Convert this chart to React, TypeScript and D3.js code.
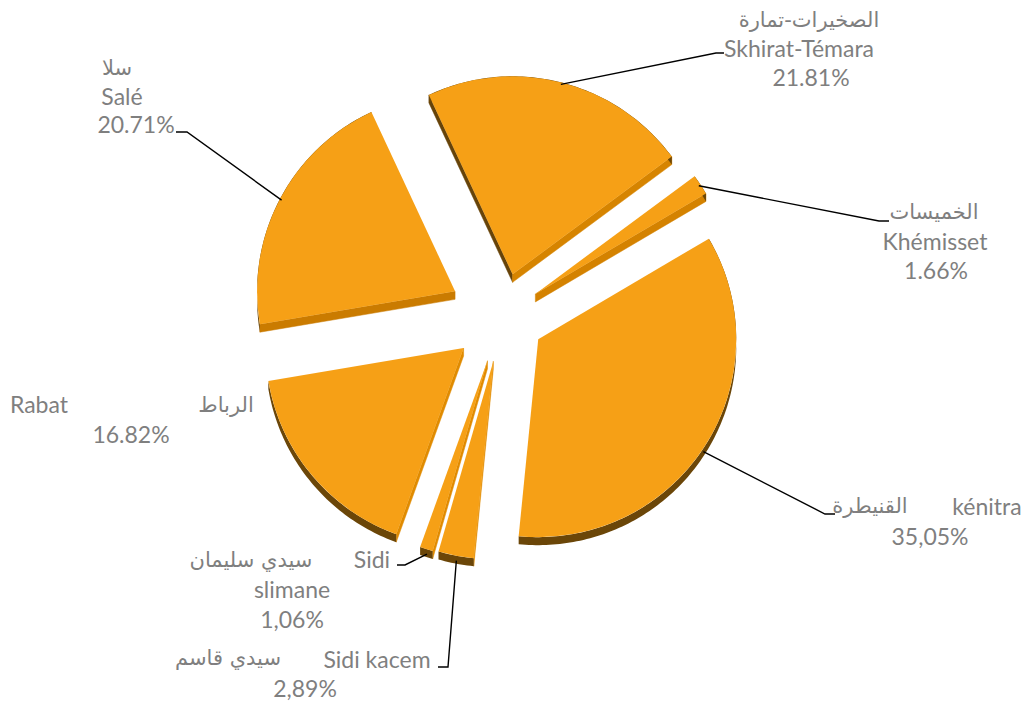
import React from "react";
import * as d3 from "d3";

// ---- data ----
const categories = ["Skhirat-Témara", "Khémisset", "kénitra", "Sidi kacem", "Sidi slimane", "Rabat", "Salé"];
const arabicNames = ["الصخيرات-تمارة", "الخميسات", "القنيطرة", "سيدي قاسم", "سيدي سليمان", "الرباط", "سلا"];
const values = [21.81, 1.66, 35.05, 2.89, 1.06, 16.82, 20.71];
const percentLabels = ["21.81%", "1.66%", "35,05%", "2,89%", "1,06%", "16.82%", "20.71%"];

// ---- style / layout ----
const W = 1027;
const H = 707;
const CX = 502;
const CY = 316;
const R = 198;
const DEPTH = 8;
const START_DEG = -25;
const explode = [43, 40, 43, 46, 47, 50, 53];
const FONT = "Lato, 'DejaVu Sans', sans-serif";
const AR_FONT = "'DejaVu Sans', sans-serif";
const FS = 23;
const AR_FS = 21;
const TXT = "#7f7f7f";

type P = [number, number];
interface LabelLayout {
  ar: P;
  lat: P[];
  pct: P;
  elbow?: P;
  end?: P;
}
const labelLayout: LabelLayout[] = [
  { ar: [809, 27], lat: [[799, 57]], pct: [811, 86], elbow: [716, 53], end: [724, 53] },
  { ar: [934, 219], lat: [[935, 250]], pct: [936, 279], elbow: [879, 221], end: [889, 221] },
  { ar: [870, 513], lat: [[987, 515]], pct: [930, 545], elbow: [825, 514], end: [835, 514] },
  { ar: [228, 665], lat: [[377, 668]], pct: [305, 697], elbow: [448, 667], end: [438, 667] },
  { ar: [251, 567], lat: [[372, 568], [292, 598]], pct: [292, 628], elbow: [405, 565], end: [397, 565] },
  { ar: [226, 412], lat: [[39, 413]], pct: [131, 443] },
  { ar: [117, 75], lat: [[122, 105]], pct: [136, 133], elbow: [187, 132], end: [176, 132] },
];

const pt = (a: number, r: number, dy = 0): P => [r * Math.sin(a), -r * Math.cos(a) + dy];

export default function App() {
  const a0 = (START_DEG * Math.PI) / 180;
  const pie = d3
    .pie<number>()
    .sort(null)
    .value((d) => d)
    .startAngle(a0)
    .endAngle(a0 + 2 * Math.PI);
  const arcs = pie(values);
  const arc = d3.arc<d3.PieArcDatum<number>>().innerRadius(0).outerRadius(R);
  const flatSide = d3
    .scaleLinear<string>()
    .domain([-1, 0, 1])
    .range(["#5c3d0a", "#c57800", "#e28c00"]);

  const slices = arcs.map((a, i) => {
    const mid = (a.startAngle + a.endAngle) / 2;
    const ox = CX + explode[i] * Math.sin(mid);
    const oy = CY - explode[i] * Math.cos(mid);
    const n = Math.max(2, Math.ceil(((a.endAngle - a.startAngle) * 180) / Math.PI));
    const angs = d3.range(n + 1).map((k) => a.startAngle + ((a.endAngle - a.startAngle) * k) / n);
    const top = angs.map((t) => pt(t, R));
    const bot = angs.map((t) => pt(t, R, DEPTH)).reverse();
    const band = "M" + [...top, ...bot].map((p) => p.join(",")).join("L") + "Z";
    const flats: { d: string; fill: string }[] = [];
    [
      [a.startAngle, a.startAngle - Math.PI / 2],
      [a.endAngle, a.endAngle + Math.PI / 2],
    ].forEach(([edge, normal]) => {
      const ny = -Math.cos(normal);
      if (ny <= 0) return;
      const o = pt(edge, R);
      const q: P[] = [[0, 0], o, [o[0], o[1] + DEPTH], [0, DEPTH]];
      flats.push({ d: "M" + q.map((p) => p.join(",")).join("L") + "Z", fill: flatSide(Math.sin(normal)) });
    });
    return { a, i, mid, ox, oy, d: arc(a) as string, band, flats };
  });
  const order = [...slices].sort((p, q) => p.oy - q.oy);

  return (
    <svg width={W} height={H} style={{ display: "block", position: "absolute", left: 0, top: 0 }}>
      <defs>
        <linearGradient id="face" gradientUnits="userSpaceOnUse" x1={300} y1={90} x2={720} y2={540}>
          <stop offset="0" stopColor="#f6a016" />
          <stop offset="1" stopColor="#ee9104" />
        </linearGradient>
      </defs>
      {order.map((s) => (
        <g key={s.i} transform={`translate(${s.ox},${s.oy})`}>
          {s.flats.map((f, k) => (
            <path key={k} d={f.d} fill={f.fill} stroke={f.fill} strokeWidth={0.5} />
          ))}
          <path d={s.band} fill="#6b4608" />
          <path d={s.d} fill="url(#face)" />
        </g>
      ))}
      {slices.map((s) => {
        const L = labelLayout[s.i];
        if (!L.elbow || !L.end) return null;
        const sx = s.ox + (R - 2) * Math.sin(s.mid);
        const sy = s.oy - (R - 2) * Math.cos(s.mid) + (Math.cos(s.mid) < 0 ? DEPTH - 1 : 0);
        return (
          <polyline
            key={"l" + s.i}
            points={`${sx},${sy} ${L.elbow[0]},${L.elbow[1]} ${L.end[0]},${L.end[1]}`}
            fill="none"
            stroke="#000"
            strokeWidth={1.4}
          />
        );
      })}
      <g fill={TXT} textAnchor="middle">
        {categories.map((c, i) => {
          const L = labelLayout[i];
          const words = L.lat.length > 1 ? c.split(" ") : [c];
          return (
            <g key={"t" + i}>
              <text x={L.ar[0]} y={L.ar[1]} fontFamily={AR_FONT} fontSize={AR_FS}>
                {arabicNames[i]}
              </text>
              {words.map((w, j) => (
                <text key={j} x={L.lat[j][0]} y={L.lat[j][1]} fontFamily={FONT} fontSize={FS}>
                  {w}
                </text>
              ))}
              <text x={L.pct[0]} y={L.pct[1]} fontFamily={FONT} fontSize={FS}>
                {percentLabels[i]}
              </text>
            </g>
          );
        })}
      </g>
    </svg>
  );
}
